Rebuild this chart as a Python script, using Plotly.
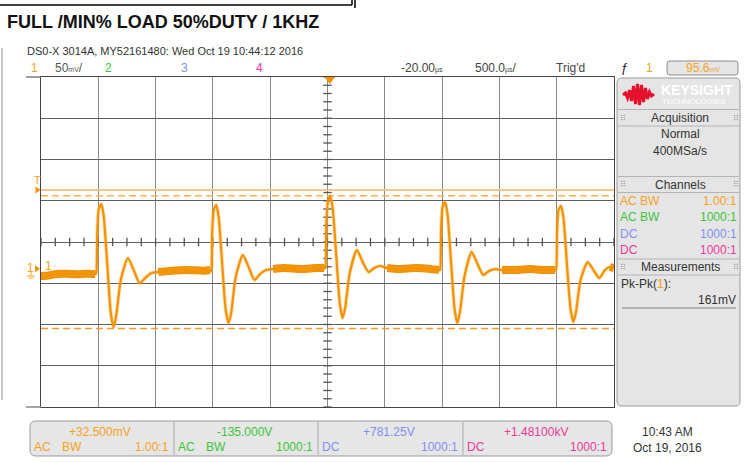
import plotly.graph_objects as go

# ---------------- values ----------------
title_text = "FULL /MIN% LOAD 50%DUTY / 1KHZ"
scope_header = "DS0-X 3014A, MY52161480: Wed Oct 19 10:44:12 2016"

time_per_div_us = 500.0
delay_us = -20.0
mv_per_div = 50.0
offset_mv = 32.5
trigger_level_mv = 95.6
cursor_max_mv = 88.6
cursor_min_mv = -72.4
pkpk_text = "161mV"

# channel-1 trace (time in microseconds, voltage in millivolts)
t_us = [-2520, -2470, -2420, -2380, -2300, -2200, -2120,
        -2047, -2038, -2029, -2016, -1994, -1973, -1942, -1912, -1887, -1864, -1824, -1762, -1711, -1660, -1611, -1558, -1497,
        -1400, -1250, -1100,
        -1044, -1035, -1026, -1013, -991, -970, -939, -909, -884, -861, -821, -759, -708, -657, -608, -555, -494,
        -400, -250, -120,
        -49, -40, -31, -18, 4, 25, 56, 86, 111, 134, 174, 236, 287, 338, 387, 440, 501,
        600, 750, 880,
        953, 962, 971, 984, 1006, 1027, 1058, 1088, 1113, 1136, 1176, 1238, 1289, 1340, 1389, 1442, 1503,
        1600, 1750, 1880,
        1965, 1974, 1983, 1996, 2018, 2039, 2070, 2100, 2125, 2148, 2188, 2250, 2301, 2352, 2401, 2444, 2480]
v_mv = [-8.8, -8.5, -7.0, -6.3, -6.0, -6.5, -6.0,
        -6.3, -5.1, 44.6, 72.5, 78.6, 64.1, 5.8, -52.5, -70.7, -57.3, -13.6, 13.1, -1.5, -17.3, -11.2, -5.1, -3.9,
        -2.7, -1.5, -2.2,
        -1.5, -2.7, 44.6, 71.3, 77.4, 62.8, 5.8, -48.8, -65.8, -53.7, -10.0, 16.7, 2.2, -13.6, -6.3, -1.5, -0.3,
        0.9, -0.3, 0.9,
        0.9, 0.9, 53.1, 79.8, 88.3, 73.8, 16.7, -40.3, -59.7, -47.6, -5.1, 22.8, 8.2, -3.9, 0.9, 3.4, 0.9,
        -0.3, 0.9, -0.3,
        -1.5, -1.5, 47.1, 75.0, 81.0, 66.5, 8.2, -47.6, -65.8, -52.5, -8.8, 20.4, 5.8, -7.5, -2.7, -0.3, -1.5,
        -1.5, -0.3, -1.5,
        -1.5, -1.5, 44.6, 71.3, 76.2, 61.6, 4.6, -47.6, -64.6, -52.5, -13.6, 8.2, -1.5, -11.2, -1.5, 2.2, 0.9]
# quiet (noisy, thick) stretches of the trace
flat_spans_us = [(-2520, -2045), (-1540, -1042), (-540, -47), (460, 955), (1460, 1967), (2420, 2480)]

channel_values = ["+32.500mV", "-135.000V", "+781.25V", "+1.48100kV"]
channel_coupling = ["AC", "AC", "DC", "DC"]
channel_bw = ["BW", "BW", "", ""]
channel_probe = ["1.00:1", "1000:1", "1000:1", "1000:1"]
clock_lines = ["10:43 AM", "Oct 19, 2016"]

# ---------------- styling ----------------
W, H = 747, 462
L, R, T, B = 41, 133, 77, 55
PW, PH = W - L - R, H - T - B
ORANGE = "#F5A21E"
TRACE = "#F39200"
GREEN = "#3BC43B"
BLUE = "#7F8FF2"
PINK = "#F0389A"
CH_COLORS = [ORANGE, GREEN, BLUE, PINK]
NARROW = "Liberation Sans Narrow, Arial Narrow, Liberation Sans, Arial, sans-serif"
TXT = "#333333"


def px(x):
    return (x - L) / PW


def py(y):
    return (H - B - y) / PH


xr = [delay_us - 5 * time_per_div_us, delay_us + 5 * time_per_div_us]
yr = [offset_mv - 4 * mv_per_div, offset_mv + 4 * mv_per_div]

fig = go.Figure()

# minor ticks on the centre axes
xc = (xr[0] + xr[1]) / 2
yc = (yr[0] + yr[1]) / 2
tx = [xr[0] + k * time_per_div_us / 4 for k in range(41)]
ty = [yr[0] + k * mv_per_div / 5 for k in range(41)]
fig.add_trace(go.Scatter(x=tx, y=[yc] * len(tx), mode="markers", hoverinfo="skip",
                         marker=dict(symbol="line-ns", size=6, line=dict(width=1.3, color="#555"))))
fig.add_trace(go.Scatter(x=[xc] * len(ty), y=ty, mode="markers", hoverinfo="skip",
                         marker=dict(symbol="line-ew", size=6, line=dict(width=1.3, color="#555"))))

# trigger level and Pk-Pk cursors
fig.add_trace(go.Scatter(x=xr, y=[trigger_level_mv] * 2, mode="lines",
                         line=dict(color="rgba(250,190,130,0.9)", width=2)))
fig.add_trace(go.Scatter(x=xr, y=[cursor_max_mv] * 2, mode="lines",
                         line=dict(color="#F7B25A", width=1.5, dash="7px,4px")))
fig.add_trace(go.Scatter(x=xr, y=[cursor_min_mv] * 2, mode="lines",
                         line=dict(color="#F39A2A", width=1.5, dash="7px,4px")))

# noisy band on quiet stretches
bx, by = [], []
for a, b in flat_spans_us:
    for t, v in zip(t_us, v_mv):
        if a <= t <= b:
            bx.append(t)
            by.append(v)
    bx.append(None)
    by.append(None)
fig.add_trace(go.Scatter(x=bx, y=by, mode="lines", line=dict(color=TRACE, width=8, shape="spline", smoothing=0.6)))
fig.add_trace(go.Scatter(x=t_us, y=v_mv, mode="lines", line=dict(color="rgba(245,165,50,0.35)", width=4, shape="spline", smoothing=0.6)))
fig.add_trace(go.Scatter(x=t_us, y=v_mv, mode="lines", line=dict(color=TRACE, width=2.2, shape="spline", smoothing=0.6)))

fig.update_layout(
    width=W, height=H, margin=dict(l=L, r=R, t=T, b=B, pad=0),
    paper_bgcolor="white", plot_bgcolor="white", showlegend=False,
    xaxis=dict(range=xr, tick0=delay_us, dtick=time_per_div_us, showticklabels=False, ticks="",
               showgrid=True, gridcolor="#8a8a8a", gridwidth=1.3, zeroline=False,
               showline=True, mirror=True, linecolor="#444", linewidth=1.3, fixedrange=True),
    yaxis=dict(range=yr, tick0=offset_mv, dtick=mv_per_div, showticklabels=False, ticks="",
               showgrid=True, gridcolor="#5e5e5e", gridwidth=1.3, zeroline=False,
               showline=True, mirror=True, linecolor="#444", linewidth=1.3, fixedrange=True),
)

shapes = []


def line_px(x0, y0, x1, y1, color, width=1):
    shapes.append(dict(type="line", xref="paper", yref="paper", x0=px(x0), y0=py(y0), x1=px(x1), y1=py(y1),
                       line=dict(color=color, width=width)))


def rrect(x0, y0, x1, y1, r, fill, line, width=1):
    def P(x, y):
        return f"{px(x):.5f},{py(y):.5f}"
    path = (f"M {P(x0 + r, y0)} L {P(x1 - r, y0)} Q {P(x1, y0)} {P(x1, y0 + r)} "
            f"L {P(x1, y1 - r)} Q {P(x1, y1)} {P(x1 - r, y1)} L {P(x0 + r, y1)} "
            f"Q {P(x0, y1)} {P(x0, y1 - r)} L {P(x0, y0 + r)} Q {P(x0, y0)} {P(x0 + r, y0)} Z")
    shapes.append(dict(type="path", xref="paper", yref="paper", path=path, fillcolor=fill,
                       line=dict(color=line, width=width), layer="below"))


def txt(x, y, s, color=TXT, size=12, anchor="left", family=NARROW, bold=False):
    if bold:
        s = f"<b>{s}</b>"
    fig.add_annotation(x=px(x), y=py(y), xref="paper", yref="paper", text=s, showarrow=False,
                       xanchor=anchor, yanchor="middle", borderpad=0, borderwidth=0,
                       font=dict(family=family, size=size, color=color))


# page frame remnants
line_px(0, 5, 352, 5, "#000", 1.5)
line_px(352, 0, 352, 5, "#000", 1.5)
line_px(355, 0, 355, 8, "#000", 1.5)
line_px(2, 48, 2, 400, "#b5b5b5", 1.5)
line_px(26, 77, 41, 77, "#666", 1.3)
line_px(26, 407, 41, 407, "#888", 1.5)

# title and scope header
txt(7, 22, title_text, "#111", 18, bold=True)
txt(27, 51, scope_header, TXT, 11)
txt(31, 68, "1", ORANGE, 12)
txt(55, 68, "50<span style='font-size:7px'>mV</span>/", "#555", 12)
txt(105, 68, "2", GREEN, 12)
txt(181, 68, "3", BLUE, 12)
txt(256, 68, "4", PINK, 12)
txt(401, 68, "-20.00<span style='font-size:7px'>µs</span>", "#444", 12)
txt(475, 68, "500.0<span style='font-size:7px'>µs</span>/", "#444", 12)
txt(556, 68, "Trig'd", "#444", 12)
txt(621, 68, "ƒ", "#222", 13)
txt(646, 68, "1", ORANGE, 12)
rrect(667, 61, 738, 75, 3, "#E6E6E6", "#8a8a8a")
txt(703, 68, "95.6<span style='font-size:7px'>mV</span>", ORANGE, 12, anchor="center")

# trigger / ground markers
trig_x = 0.0
fig.add_trace(go.Scatter(x=[trig_x], y=[yr[1] - 2.5], mode="markers", cliponaxis=False,
                         marker=dict(symbol="triangle-down", size=10, color=TRACE)))
shapes.append(dict(type="path", xref="paper", yref="y",
                   path=f"M {px(35.5)},{trigger_level_mv + 4.2} L {px(40.5)},{trigger_level_mv} L {px(35.5)},{trigger_level_mv - 4.2} Z",
                   fillcolor=TRACE, line=dict(width=0)))
txt(34, 180, "T", ORANGE, 11)
shapes.append(dict(type="path", xref="paper", yref="y",
                   path=f"M {px(35)},{4.2} L {px(40)},{0} L {px(35)},{-4.2} Z",
                   fillcolor=TRACE, line=dict(width=0)))
txt(27, 268, "1", ORANGE, 12)
line_px(31, 272, 31, 276, ORANGE, 1)
line_px(27, 276, 35, 276, ORANGE, 1)
line_px(28.5, 278, 33.5, 278, ORANGE, 1)
txt(45, 266, "1", ORANGE, 12)

# right-hand panel
rrect(617, 78, 740, 406, 5, "#E5E5E5", "#9a9a9a")
for yy in (109.5, 126, 176.5, 192.5, 259, 275):
    line_px(618, yy, 739, yy, "#b4b4b4", 1)
logo = [(623, 95), (625.5, 93), (627.5, 98), (629.5, 90), (631.5, 101), (633.5, 86), (635.5, 104),
        (637.5, 84), (639.5, 105), (641.5, 85), (643.5, 102), (645.5, 88), (647.5, 99), (649.5, 92),
        (651.5, 96), (654, 94)]
shapes.append(dict(type="path", xref="paper", yref="paper",
                   path="M " + " L ".join(f"{px(a):.5f},{py(b):.5f}" for a, b in logo),
                   line=dict(color="#E5112D", width=3)))
txt(661, 90, "KEYSIGHT", "white", 14, family="Liberation Sans, Arial", bold=True)
txt(662, 101, "TECHNOLOGIES", "white", 8, family="Liberation Sans, Arial")
for yy, s in ((118, "Acquisition"), (184.5, "Channels"), (267, "Measurements")):
    txt(680, yy, s, TXT, 12, anchor="center")
    txt(620, yy, "⠿", "#999", 8, family="DejaVu Sans")
    txt(733, yy, "⠿", "#999", 8, family="DejaVu Sans")
txt(680, 134, "Normal", TXT, 12, anchor="center")
txt(680, 151, "400MSa/s", TXT, 12, anchor="center")
for i in range(4):
    yy = 201 + i * 16.4
    lab = channel_coupling[i] + (" " + channel_bw[i] if channel_bw[i] else "")
    txt(620, yy, lab, CH_COLORS[i], 12)
    txt(737, yy, channel_probe[i], CH_COLORS[i], 12, anchor="right")
txt(621, 284, f"Pk-Pk(<span style='color:{ORANGE}'>1</span>):", TXT, 12)
txt(736, 300, pkpk_text, TXT, 12, anchor="right")
line_px(622, 308, 736, 308, "#a0a0a0", 1.5)

# bottom channel strip
rrect(30, 421, 612, 456, 6, "#E6E6E6", "#9a9a9a")
seps = [30, 174, 318, 463, 612]
for xx in seps[1:-1]:
    line_px(xx, 422, xx, 455, "#aaaaaa", 1)
for i in range(4):
    a, b = seps[i], seps[i + 1]
    txt((a + b) / 2 - 2, 432, channel_values[i], CH_COLORS[i], 12, anchor="center")
    txt(a + 4, 447, channel_coupling[i], CH_COLORS[i], 12)
    if channel_bw[i]:
        txt(a + 32, 447, channel_bw[i], CH_COLORS[i], 12)
    txt(b - 5, 447, channel_probe[i], CH_COLORS[i], 12, anchor="right")
txt(667, 432, clock_lines[0], TXT, 12, anchor="center")
txt(667, 448, clock_lines[1], TXT, 12, anchor="center")

fig.update_layout(shapes=shapes)
fig.write_html("out.html", config={"displayModeBar": False},
               post_script="document.body.style.margin='0';document.body.style.padding='0';")
